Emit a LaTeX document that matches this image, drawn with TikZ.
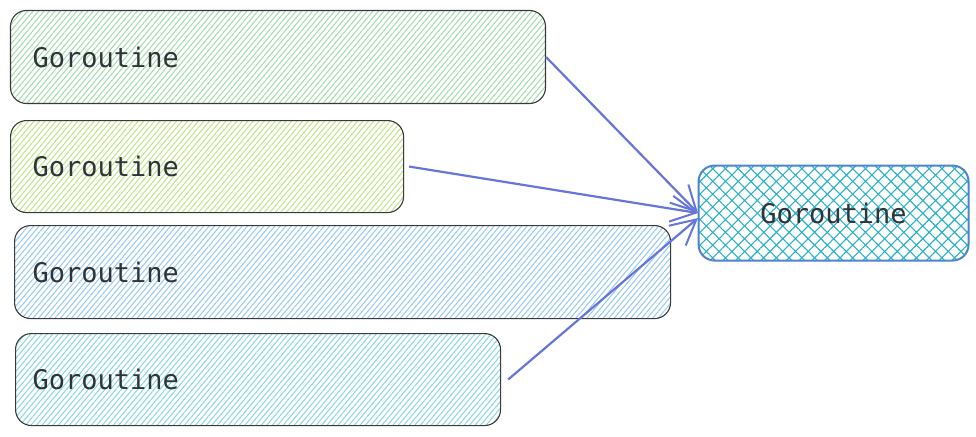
\documentclass[tikz,border=0pt]{standalone}
\usepackage{fontspec}
\setmonofont{DejaVu Sans Mono}
\usepackage{xcolor}
\usepackage{tikz}
\usetikzlibrary{arrows.meta,positioning,patterns.meta}
\definecolor{Ink}{HTML}{2F3438}
\definecolor{Edge}{HTML}{3A3A3A}
\definecolor{Arrow}{HTML}{6676D8}
\definecolor{GreenHatch}{HTML}{9EDCAC}
\definecolor{LimeHatch}{HTML}{C2E287}
\definecolor{BlueHatch}{HTML}{94C8F2}
\definecolor{CyanHatch}{HTML}{86D8DD}
\definecolor{TealHatch}{HTML}{2BB0C8}
\definecolor{TealEdge}{HTML}{4A86C8}

\begin{document}
\begin{tikzpicture}[x=1pt,y=-1pt,font=\ttfamily\fontsize{27}{30}\selectfont,
  every node/.style={text=Ink,anchor=north west,inner ysep=0pt,align=left},
  gbox/.style={draw=Edge,line width=1.1pt,rounded corners=16pt},
  lines/.style={pattern={Lines[angle=50,distance=4.2pt,line width=1pt]},pattern color=#1},
  conn/.style={draw=Arrow,line width=2.2pt,-{Straight Barb[length=25pt,width=26pt,line width=2pt]}}]
  \useasboundingbox (0,0) rectangle (976,436);
  \node[gbox,lines=GreenHatch,inner xsep=22pt,text width=491pt,minimum height=93pt] (g1) at (10,10) {Goroutine};
  \node[gbox,lines=LimeHatch,inner xsep=22pt,text width=349pt,minimum height=92pt] (g2) at (10,120) {Goroutine};
  \node[gbox,lines=BlueHatch,inner xsep=18pt,text width=620pt,minimum height=93pt] (g3) at (14,225) {Goroutine};
  \node[gbox,lines=CyanHatch,inner xsep=17pt,text width=451pt,minimum height=92pt] (g4) at (15,333) {Goroutine};
  \node[draw=TealEdge,line width=2pt,rounded corners=16pt,align=center,
    pattern={Hatch[angle=45,distance=9pt,line width=1.1pt]},pattern color=TealHatch,
    minimum width=270pt,minimum height=95pt] (sink) at (698,165) {Goroutine};
  \draw[conn] (g1.east) -- (sink.west);
  \draw[conn] ([xshift=5pt]g2.east) -- (sink.west);
  \draw[conn] ([xshift=7pt]g4.east) -- ([yshift=-5pt]sink.west);
\end{tikzpicture}
\end{document}
